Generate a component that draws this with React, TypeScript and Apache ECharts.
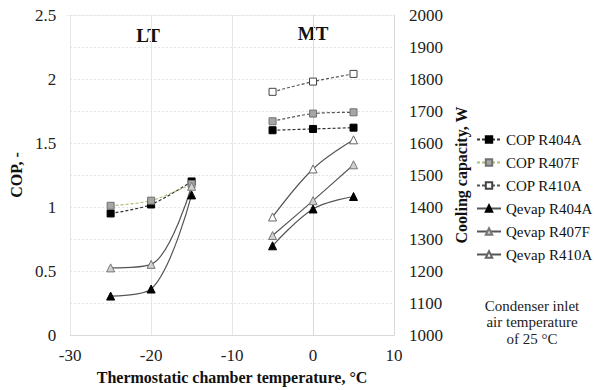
import React, { useEffect, useRef } from "react";
import * as echarts from "echarts";

const ltTemps = [-25, -20, -15];
const mtTemps = [-5, 0, 5];

const copR404A_LT = [0.95, 1.02, 1.2];
const copR404A_MT = [1.6, 1.61, 1.62];
const copR407F_LT = [1.01, 1.05, 1.18];
const copR407F_MT = [1.67, 1.73, 1.74];
const copR410A_MT = [1.9, 1.98, 2.04];

const qR404A_LT = [1122, 1144, 1438];
const qR404A_MT = [1279, 1394, 1433];
const qR407F_LT = [1210, 1221, 1465];
const qR407F_MT = [1311, 1420, 1532];
const qR410A_MT = [1369, 1519, 1610];

const legendNames = [
  "COP R404A",
  "COP R407F",
  "COP R410A",
  "Qevap R404A",
  "Qevap R407F",
  "Qevap R410A",
];

const FONT = "Liberation Serif";

const pairs = (xs: number[], ys: number[]) => xs.map((x, i) => [x, ys[i]]);

export default function App() {
  const ref = useRef<HTMLDivElement>(null);
  useEffect(() => {
    if (!ref.current) return;
    const chart = echarts.init(ref.current, undefined, { renderer: "svg" });

    const copSeries = (
      name: string,
      xs: number[],
      ys: number[],
      lineColor: string,
      fill: string,
      border: string
    ) => ({
      name,
      type: "line",
      yAxisIndex: 0,
      data: pairs(xs, ys),
      smooth: 0.3,
      symbol: "rect",
      symbolSize: 7,
      lineStyle: { color: lineColor, width: 1.2, type: [3, 2] },
      itemStyle: { color: fill, borderColor: border, borderWidth: 1 },
      z: 3,
    });
    const qSeries = (
      name: string,
      xs: number[],
      ys: number[],
      fill: string,
      border: string
    ) => ({
      name,
      type: "line",
      yAxisIndex: 1,
      data: pairs(xs, ys),
      smooth: 0.35,
      symbol: "triangle",
      symbolSize: 8,
      lineStyle: { color: "#555", width: 1.2, type: "solid" },
      itemStyle: { color: fill, borderColor: border, borderWidth: 1 },
      z: 3,
    });

    const labelStyle = { fontFamily: FONT, fontSize: 17, color: "#222" };
    const nameStyle = { fontFamily: FONT, fontSize: 16, fontWeight: "bold", color: "#111" };

    chart.setOption({
      animation: false,
      textStyle: { fontFamily: FONT },
      grid: { left: 66, right: 200, top: 15, bottom: 53 },
      legend: {
        data: legendNames,
        orient: "vertical",
        left: 476,
        top: 132,
        padding: 0,
        itemWidth: 24,
        itemHeight: 8,
        itemGap: 8,
        textStyle: { fontFamily: FONT, fontSize: 15, color: "#111" },
      },
      xAxis: {
        type: "value",
        min: -30,
        max: 10,
        interval: 10,
        axisLine: { show: true, lineStyle: { color: "#d9d9d9" } },
        axisTick: { show: false },
        axisLabel: { ...labelStyle, margin: 12 },
        splitLine: { show: true, lineStyle: { color: "#e6e6e6", type: "solid" } },
        name: "Thermostatic chamber temperature, °C",
        nameLocation: "middle",
        nameGap: 32,
        nameTextStyle: nameStyle,
      },
      yAxis: [
        {
          type: "value",
          min: 0,
          max: 2.5,
          interval: 0.5,
          axisLine: { show: true, lineStyle: { color: "#d9d9d9" } },
          axisTick: { show: false },
          axisLabel: { ...labelStyle, margin: 14 },
          splitLine: { show: false },
          name: "COP, -",
          nameLocation: "middle",
          nameRotate: 90,
          nameGap: 40,
          nameTextStyle: nameStyle,
        },
        {
          type: "value",
          min: 1000,
          max: 2000,
          interval: 100,
          position: "right",
          axisLine: { show: true, lineStyle: { color: "#d9d9d9" } },
          axisTick: { show: false },
          axisLabel: { ...labelStyle, margin: 15, formatter: (v: number) => String(v) },
          splitLine: { show: true, lineStyle: { color: "#e3e3e3", type: [2, 2] } },
          name: "Cooling capacity, W",
          nameLocation: "middle",
          nameRotate: 90,
          nameGap: 52,
          nameTextStyle: nameStyle,
        },
      ],
      graphic: [
        {
          type: "rect",
          shape: { x: 66, y: 15, width: 328, height: 0.5 },
          style: { fill: "#e0e0e0" },
          silent: true,
        },
        {
          type: "text",
          x: 148,
          y: 35,
          style: { text: "LT", font: `bold 19px ${FONT}`, fill: "#111", align: "center", verticalAlign: "middle" },
        },
        {
          type: "text",
          x: 313,
          y: 33,
          style: { text: "MT", font: `bold 19px ${FONT}`, fill: "#111", align: "center", verticalAlign: "middle" },
        },
        {
          type: "text",
          x: 532,
          y: 322,
          style: {
            text: "Condenser inlet\nair temperature\nof 25 °C",
            font: `15px ${FONT}`,
            lineHeight: 16.5,
            fill: "#222",
            align: "center",
            verticalAlign: "middle",
          },
        },
      ],
      series: [
        copSeries("COP R404A", ltTemps, copR404A_LT, "#333", "#000", "#000"),
        copSeries("COP R404A", mtTemps, copR404A_MT, "#333", "#000", "#000"),
        copSeries("COP R407F", ltTemps, copR407F_LT, "#a9bf7a", "#a6a6a6", "#707070"),
        copSeries("COP R407F", mtTemps, copR407F_MT, "#555", "#a6a6a6", "#707070"),
        copSeries("COP R410A", mtTemps, copR410A_MT, "#555", "#fff", "#444"),
        qSeries("Qevap R404A", ltTemps, qR404A_LT, "#000", "#000"),
        qSeries("Qevap R404A", mtTemps, qR404A_MT, "#000", "#000"),
        qSeries("Qevap R407F", ltTemps, qR407F_LT, "#d0d0d0", "#777"),
        qSeries("Qevap R407F", mtTemps, qR407F_MT, "#d0d0d0", "#777"),
        qSeries("Qevap R410A", mtTemps, qR410A_MT, "#fff", "#666"),
      ],
    });
    return () => chart.dispose();
  }, []);
  return (
    <div
      ref={ref}
      style={{ position: "fixed", left: 0, top: 0, width: 594, height: 390, background: "#fff" }}
    />
  );
}
